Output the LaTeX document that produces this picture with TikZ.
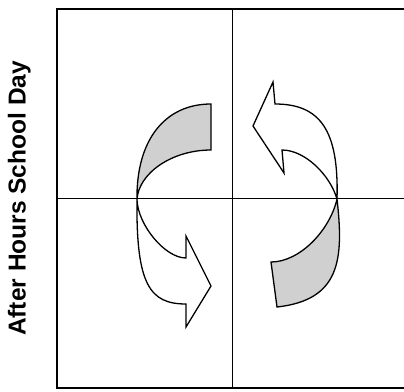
\documentclass[tikz,border=0pt]{standalone}
\usepackage{fontspec}
\setmainfont{Liberation Sans}
\usetikzlibrary{calc}
\definecolor{Ink}{HTML}{000000}
\definecolor{Back}{HTML}{D0D0D0}

\begin{document}
\begin{tikzpicture}[x=1pt,y=-1pt,
    grid/.style={Ink,line width=1.9pt},
    ribbon/.style={Ink,line width=1.3pt,line join=miter}]
  \useasboundingbox (0,0) rectangle (404,391);
  \coordinate (lpinch) at (137,200);
  \coordinate (rpinch) at (337,199);
  % left arrow: back face on top, front face turning down
  \filldraw[ribbon,fill=Back] (211,104) .. controls (165,104) and (136,140) .. (lpinch)
    .. controls (138,174) and (171,150) .. (211,150) -- cycle;
  \filldraw[ribbon,fill=white] (lpinch) .. controls (136,285) and (150,304) .. (186,304)
    -- (186,327) -- (211,286) -- (186,236) -- (186,258)
    .. controls (165,258) and (138,225) .. (lpinch);
  % right arrow: back face below, front face turning up
  \filldraw[ribbon,fill=Back] (rpinch) .. controls (344,260) and (340,300) .. (277,307)
    -- (271,262) .. controls (300,262) and (330,230) .. (rpinch) -- cycle;
  \filldraw[ribbon,fill=white] (rpinch) .. controls (339,130) and (320,104) .. (275,104)
    -- (273,82) -- (253,126) -- (284,173) -- (282,150)
    .. controls (305,150) and (330,175) .. (rpinch);
  % frame
  \draw[grid] (404,9) -- (57,9) -- (57,388) -- (404,388);
  \draw[grid] (232.5,9) -- (232.5,388);
  \draw[grid] (57,198.5) -- (404,198.5);
  \node[font=\bfseries\fontsize{24.5}{28}\selectfont,rotate=90,anchor=base,inner sep=0pt]
    (daylabel) at (25.5,198.4) {After Hours School Day};
\end{tikzpicture}
\end{document}
